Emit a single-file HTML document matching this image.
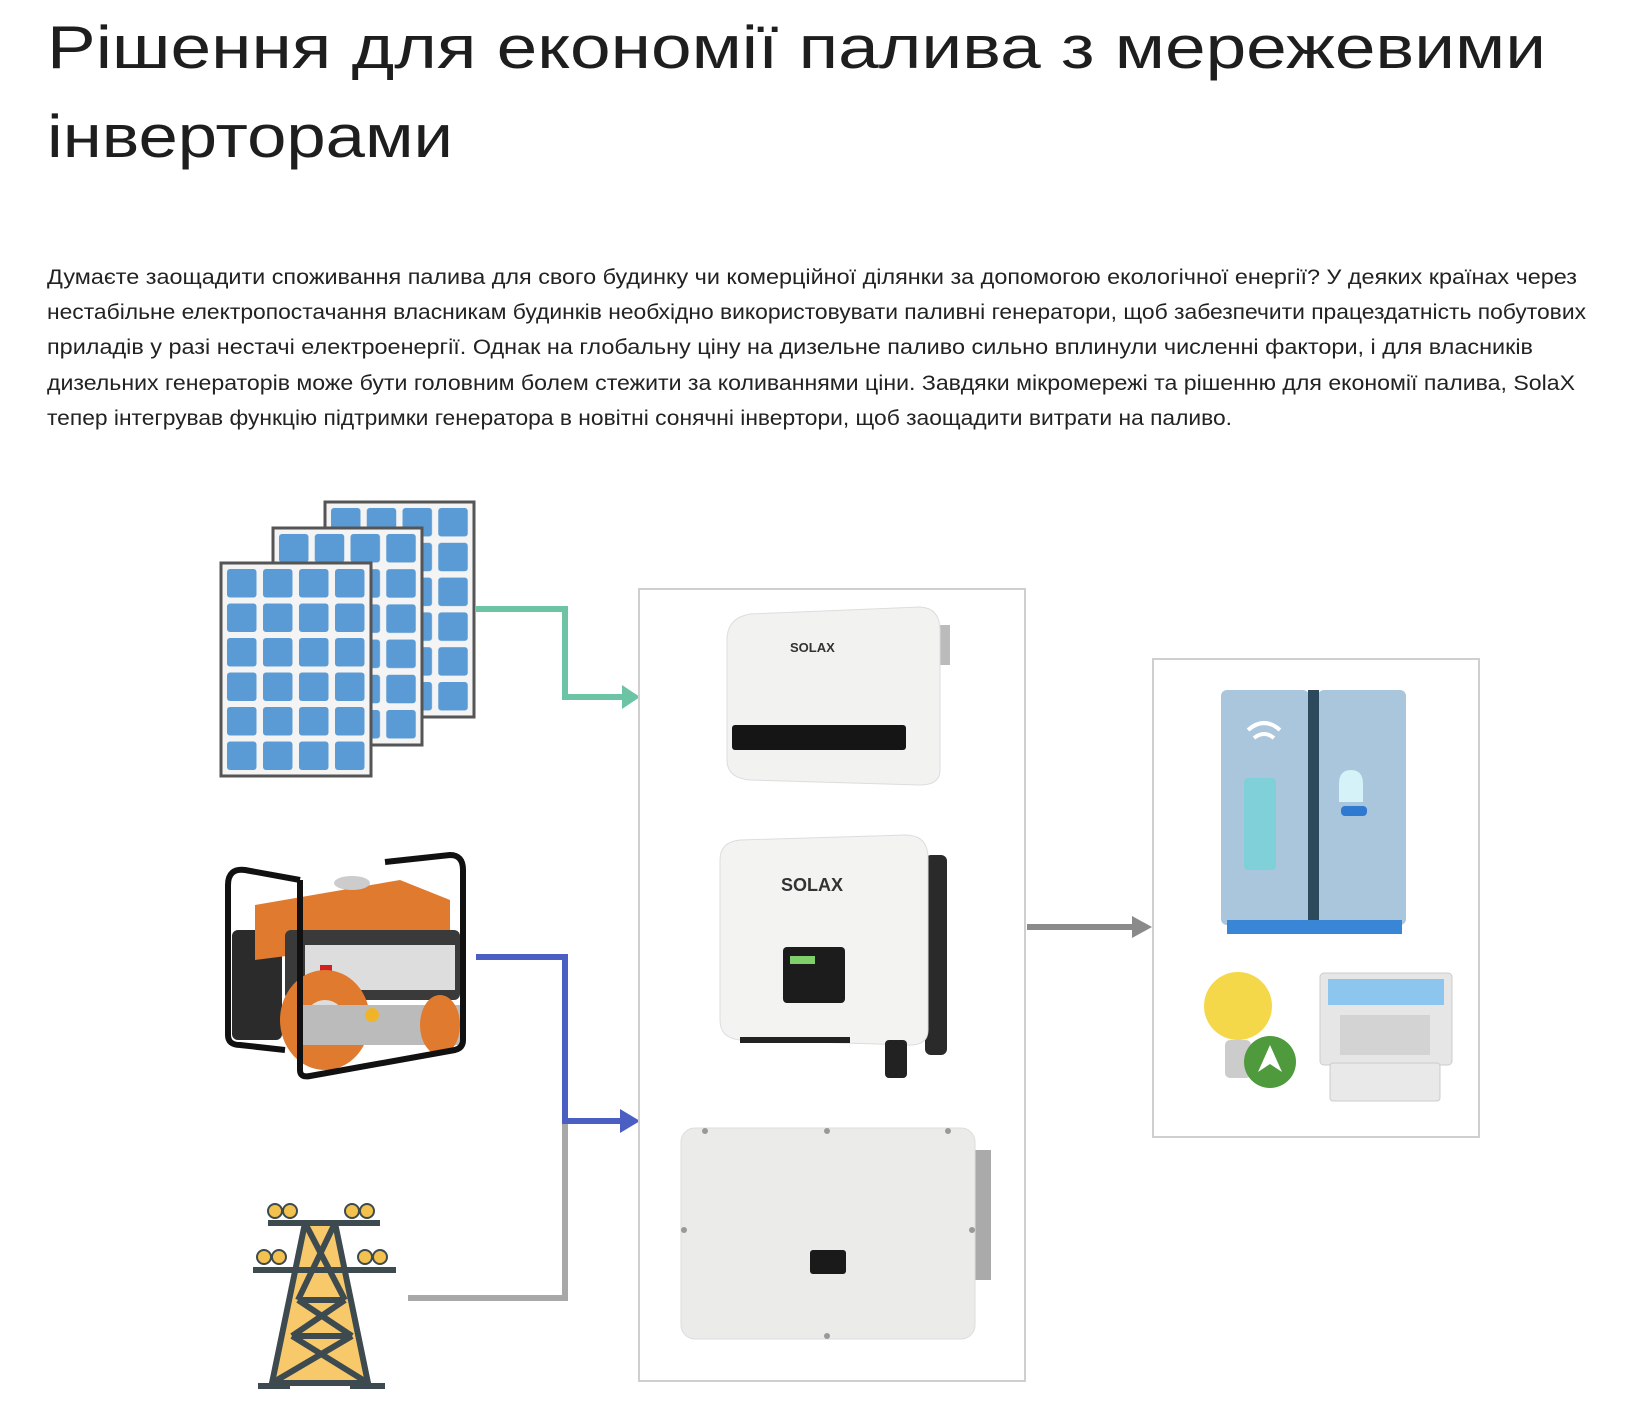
<!DOCTYPE html>
<html><head><meta charset="utf-8"><style>
html,body{margin:0;padding:0;background:#fff;}
svg{display:block;}
</style></head><body>
<svg width="1632" height="1424" viewBox="0 0 1632 1424" xmlns="http://www.w3.org/2000/svg" font-family="'Liberation Sans', sans-serif">
<g fill="#1e1e1e" font-size="60" font-weight="500">
<text x="47" y="68" textLength="1499" lengthAdjust="spacingAndGlyphs">Рішення для економії палива з мережевими</text>
<text x="47" y="157" textLength="406" lengthAdjust="spacingAndGlyphs">інверторами</text>
</g>
<g fill="#222" font-size="21">
<text x="47" y="284" textLength="1530" lengthAdjust="spacingAndGlyphs">Думаєте заощадити споживання палива для свого будинку чи комерційної ділянки за допомогою екологічної енергії? У деяких країнах через</text>
<text x="47" y="319" textLength="1539" lengthAdjust="spacingAndGlyphs">нестабільне електропостачання власникам будинків необхідно використовувати паливні генератори, щоб забезпечити працездатність побутових</text>
<text x="47" y="354" textLength="1486" lengthAdjust="spacingAndGlyphs">приладів у разі нестачі електроенергії. Однак на глобальну ціну на дизельне паливо сильно вплинули численні фактори, і для власників</text>
<text x="47" y="390" textLength="1528" lengthAdjust="spacingAndGlyphs">дизельних генераторів може бути головним болем стежити за коливаннями ціни. Завдяки мікромережі та рішенню для економії палива, SolaX</text>
<text x="47" y="425" textLength="1185" lengthAdjust="spacingAndGlyphs">тепер інтегрував функцію підтримки генератора в новітні сонячні інвертори, щоб заощадити витрати на паливо.</text>
</g>

<defs>
<pattern id="c1" x="328" y="505" width="35.75" height="34.8" patternUnits="userSpaceOnUse">
<rect x="3" y="3" width="29.5" height="28.5" rx="3" fill="#5b9bd5"/>
</pattern>
<pattern id="c2" x="276" y="531" width="35.75" height="35.2" patternUnits="userSpaceOnUse">
<rect x="3" y="3" width="29.5" height="28.5" rx="3" fill="#5b9bd5"/>
</pattern>
<pattern id="c3" x="224" y="566" width="36" height="34.5" patternUnits="userSpaceOnUse">
<rect x="3" y="3" width="29.5" height="28.5" rx="3" fill="#5b9bd5"/>
</pattern>
</defs>
<!-- solar panels -->
<g stroke="#555" stroke-width="3">
<rect x="325" y="502" width="149" height="215" fill="#f4f4f4"/>
<rect x="328" y="505" width="143" height="209" fill="url(#c1)" stroke="none"/>
<rect x="273" y="528" width="149" height="217" fill="#f4f4f4"/>
<rect x="276" y="531" width="143" height="211" fill="url(#c2)" stroke="none"/>
<rect x="221" y="563" width="150" height="213" fill="#f4f4f4"/>
<rect x="224" y="566" width="144" height="207" fill="url(#c3)" stroke="none"/>
</g>

<!-- connectors -->
<g fill="none" stroke-width="6">
<polyline points="476,609 565,609 565,697 625,697" stroke="#6cc4a4"/>
<polyline points="408,1298 565,1298 565,1121" stroke="#a8a8a8"/>
<polyline points="476,957 565,957 565,1121 625,1121" stroke="#4a5fc1"/>
<line x1="1027" y1="927" x2="1136" y2="927" stroke="#8a8a8a"/>
</g>
<polygon points="622,685 640,697 622,709" fill="#6cc4a4"/>
<polygon points="620,1109 640,1121 620,1133" fill="#4a5fc1"/>
<polygon points="1132,916 1152,927 1132,938" fill="#8a8a8a"/>

<!-- boxes -->
<rect x="639" y="589" width="386" height="792" fill="none" stroke="#cfcfcf" stroke-width="2"/>
<rect x="1153" y="659" width="326" height="478" fill="none" stroke="#cfcfcf" stroke-width="2"/>

<!-- inverter 1 -->
<rect x="930" y="625" width="20" height="40" fill="#bbb"/>
<path d="M727,640 Q727,618 750,614 L920,607 Q940,608 940,630 L940,770 Q940,785 920,785 L750,780 Q727,778 727,760 Z" fill="#f2f2f0" stroke="#ddd"/>
<rect x="732" y="725" width="174" height="25" rx="3" fill="#151515"/>
<text x="790" y="652" font-size="13" font-weight="bold" fill="#333">SOLAX</text>
<!-- inverter 2 -->
<rect x="925" y="855" width="22" height="200" rx="6" fill="#2a2a2a"/>
<path d="M720,860 Q720,842 740,840 L905,835 Q928,835 928,858 L928,1030 Q928,1045 910,1045 L740,1040 Q720,1038 720,1020 Z" fill="#f3f3f1" stroke="#ddd"/>
<rect x="783" y="947" width="62" height="56" rx="4" fill="#1c1c1c"/>
<rect x="790" y="956" width="25" height="8" fill="#7fcf6a"/>
<text x="781" y="891" font-size="18" font-weight="bold" fill="#333">SOLAX</text>
<rect x="740" y="1037" width="110" height="6" fill="#222"/>
<rect x="885" y="1040" width="22" height="38" rx="4" fill="#222"/>
<!-- inverter 3 -->
<rect x="975" y="1150" width="16" height="130" fill="#aaa"/>
<rect x="681" y="1128" width="294" height="211" rx="14" fill="#ebebe9" stroke="#ddd"/>
<rect x="810" y="1250" width="36" height="24" rx="3" fill="#1a1a1a"/>
<g fill="#999"><circle cx="705" cy="1131" r="3"/><circle cx="827" cy="1131" r="3"/><circle cx="948" cy="1131" r="3"/><circle cx="684" cy="1230" r="3"/><circle cx="972" cy="1230" r="3"/><circle cx="827" cy="1336" r="3"/></g>

<!-- generator -->
<rect x="232" y="930" width="50" height="110" rx="6" fill="#2b2b2b"/>
<path d="M255,905 L400,880 L450,900 L450,935 L255,960 Z" fill="#e07a2e"/>
<rect x="285" y="930" width="175" height="70" rx="6" fill="#3a3a3a"/>
<rect x="305" y="945" width="150" height="45" fill="#ddd"/>
<rect x="320" y="965" width="12" height="14" fill="#d02020"/>
<ellipse cx="325" cy="1020" rx="45" ry="50" fill="#e07a2e"/>
<circle cx="325" cy="1020" r="20" fill="#ddd"/>
<rect x="300" y="1005" width="160" height="40" fill="#bbb"/>
<ellipse cx="440" cy="1025" rx="20" ry="30" fill="#e07a2e"/>
<circle cx="372" cy="1015" r="7" fill="#f0b429"/>
<g fill="none" stroke="#111" stroke-width="6" stroke-linejoin="round">
<path d="M228,885 L228,1035 Q228,1045 240,1045 L285,1050 M228,885 Q228,868 245,870 L300,880"/>
<path d="M300,880 L300,1070 Q300,1078 310,1076 L455,1050 Q463,1048 463,1040 L463,870 Q463,855 450,855 L385,862"/>
</g>
<ellipse cx="352" cy="883" rx="18" ry="7" fill="#ccc"/>

<!-- tower -->
<g stroke="#3d4a4f" stroke-width="6" fill="none">
<polygon points="305,1223 335,1223 368,1383 272,1383" fill="#f7c96b" stroke="#3d4a4f"/>
<line x1="268" y1="1223" x2="380" y2="1223"/>
<line x1="253" y1="1270" x2="396" y2="1270"/>
<line x1="298" y1="1300" x2="345" y2="1300"/>
<line x1="292" y1="1336" x2="352" y2="1336"/>
<line x1="305" y1="1223" x2="345" y2="1300"/><line x1="335" y1="1223" x2="298" y2="1300"/>
<line x1="298" y1="1300" x2="352" y2="1336"/><line x1="345" y1="1300" x2="292" y2="1336"/>
<line x1="292" y1="1336" x2="368" y2="1383"/><line x1="352" y1="1336" x2="272" y2="1383"/>
<line x1="258" y1="1386" x2="290" y2="1386"/><line x1="350" y1="1386" x2="385" y2="1386"/>
</g>
<g fill="#f2c14e" stroke="#3d4a4f" stroke-width="2">
<circle cx="275" cy="1211" r="7"/><circle cx="290" cy="1211" r="7"/><circle cx="352" cy="1211" r="7"/><circle cx="367" cy="1211" r="7"/>
<circle cx="264" cy="1257" r="7"/><circle cx="279" cy="1257" r="7"/><circle cx="365" cy="1257" r="7"/><circle cx="380" cy="1257" r="7"/>
</g>

<!-- fridge -->
<rect x="1221" y="690" width="88" height="235" rx="6" fill="#a9c6dc"/>
<rect x="1318" y="690" width="88" height="235" rx="6" fill="#a9c6dc"/>
<rect x="1308" y="690" width="11" height="230" fill="#2c4a5c"/>
<rect x="1227" y="920" width="175" height="14" fill="#3a86d6"/>
<rect x="1244" y="778" width="32" height="92" rx="4" fill="#7fd0d8"/>
<path d="M1248,730 q16,-14 32,0 M1254,738 q10,-8 20,0" stroke="#fff" stroke-width="4" fill="none"/>
<path d="M1351,770 q12,0 12,14 l0,18 l-24,0 l0,-18 q0,-14 12,-14z" fill="#d4f2f7"/>
<rect x="1341" y="806" width="26" height="10" rx="4" fill="#2f7ad0"/>

<!-- bulb -->
<circle cx="1238" cy="1006" r="34" fill="#f5d84a"/>
<rect x="1225" y="1040" width="26" height="38" rx="5" fill="#ccc"/>
<circle cx="1270" cy="1062" r="26" fill="#4f9a3c"/>
<path d="M1258,1072 L1270,1045 L1282,1072 L1270,1064 Z" fill="#fff"/>

<!-- laptop -->
<rect x="1320" y="973" width="132" height="92" rx="4" fill="#e6e6e6" stroke="#ccc"/>
<rect x="1328" y="979" width="116" height="26" fill="#8cc6ee"/>
<rect x="1340" y="1015" width="90" height="40" fill="#d3d3d3"/>
<rect x="1330" y="1063" width="110" height="38" rx="3" fill="#e9e9e9" stroke="#ccc"/>
</svg>
</body></html>
